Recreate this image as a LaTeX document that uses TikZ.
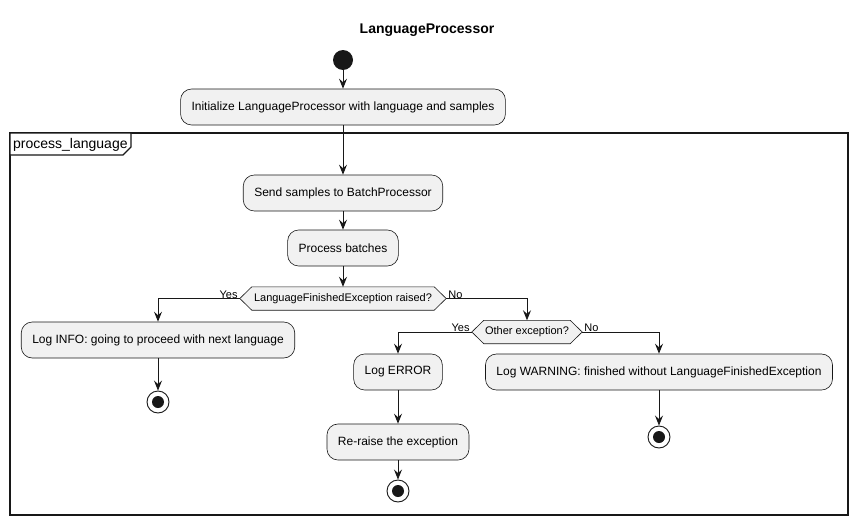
\documentclass[tikz,border=0pt]{standalone}
\usepackage{fontspec}
\setmainfont{Liberation Sans}
\usetikzlibrary{arrows.meta}
\definecolor{boxfill}{HTML}{F1F1F1}
\definecolor{ink}{HTML}{181818}
\begin{document}
\begin{tikzpicture}[x=1pt,y=-1pt,
  act/.style={draw=ink,fill=boxfill,rounded corners=11pt,line width=0.6pt,minimum height=36pt,inner xsep=11pt,font=\fontsize{12}{14}\selectfont},
  cond/.style={inner xsep=0pt,inner ysep=0pt,minimum height=23pt,font=\fontsize{11}{13}\selectfont},
  hexa/.style={draw=ink,fill=boxfill,line width=0.6pt},
  arr/.style={draw=ink,line width=0.9pt,-{Stealth[length=10pt,width=8pt,inset=3.5pt]}},
  lbl/.style={font=\fontsize{11}{13}\selectfont,inner sep=1pt},
  startnode/.style={circle,fill=ink,minimum size=20pt,inner sep=0pt},
  endnode/.style={circle,draw=ink,fill=white,line width=0.9pt,minimum size=22pt,inner sep=0pt,path picture={\fill[ink] (path picture bounding box.center) circle (6pt);}}
]
\useasboundingbox (0,0) rectangle (855,525);
\fill[white] (0,0) rectangle (855,525);
\node[font=\bfseries\fontsize{14}{16}\selectfont] (title) at (427,30) {LanguageProcessor};
% frame
\draw[ink,line width=1.5pt] (10,133) rectangle (848,515);
\draw[ink,line width=1.2pt,fill=white] (10,133) -- (131,133) -- (131,147) -- (123,155) -- (10,155) -- cycle;
\node[font=\fontsize{14}{16}\selectfont,anchor=west,inner sep=0pt] (flabel) at (13,145) {process\_language};

\node[startnode] (start) at (343,60) {};
\node[act] (init) at (343,107) {Initialize LanguageProcessor with language and samples};
\node[act] (send) at (343,193) {Send samples to BatchProcessor};
\node[act] (proc) at (343,248) {Process batches};

\node[cond,minimum width=206pt] (d1) at (343,298.5) {};
\draw[hexa] (d1.west) -- ([xshift=12pt]d1.north west) -- ([xshift=-12pt]d1.north east) -- (d1.east) -- ([xshift=-12pt]d1.south east) -- ([xshift=12pt]d1.south west) -- cycle;
\node[cond] at (d1) {LanguageFinishedException raised?};

\node[act] (info) at (158,340) {Log INFO: going to proceed with next language};
\node[endnode] (e1) at (158,402) {};

\node[cond,minimum width=110pt] (d2) at (527,332) {};
\draw[hexa] (d2.west) -- ([xshift=12pt]d2.north west) -- ([xshift=-12pt]d2.north east) -- (d2.east) -- ([xshift=-12pt]d2.south east) -- ([xshift=12pt]d2.south west) -- cycle;
\node[cond] at (d2) {Other exception?};

\node[act] (err) at (398,372) {Log ERROR};
\node[act] (rer) at (398,442) {Re-raise the exception};
\node[endnode] (e2) at (398,491) {};

\node[act] (warn) at (659,372) {Log WARNING: finished without LanguageFinishedException};
\node[endnode] (e3) at (659,437) {};

\draw[arr] (start) -- (init);
\draw[arr] (init) -- (send);
\draw[arr] (send) -- (proc);
\draw[arr] (proc) -- (d1);
\draw[arr] (d1.west) -| (info.north);
\draw[arr] (d1.east) -| (d2.north);
\draw[arr] (info) -- (e1);
\draw[arr] (d2.west) -| (err.north);
\draw[arr] (d2.east) -| (warn.north);
\draw[arr] (err) -- (rer);
\draw[arr] (rer) -- (e2);
\draw[arr] (warn) -- (e3);

\node[lbl,anchor=south east] (y1) at ([xshift=-1pt,yshift=-1pt]d1.west) {Yes};
\node[lbl,anchor=south west] (n1) at ([xshift=1pt,yshift=-1pt]d1.east) {No};
\node[lbl,anchor=south east] (y2) at ([xshift=-1pt,yshift=-1pt]d2.west) {Yes};
\node[lbl,anchor=south west] (n2) at ([xshift=1pt,yshift=-1pt]d2.east) {No};
\end{tikzpicture}
\end{document}
